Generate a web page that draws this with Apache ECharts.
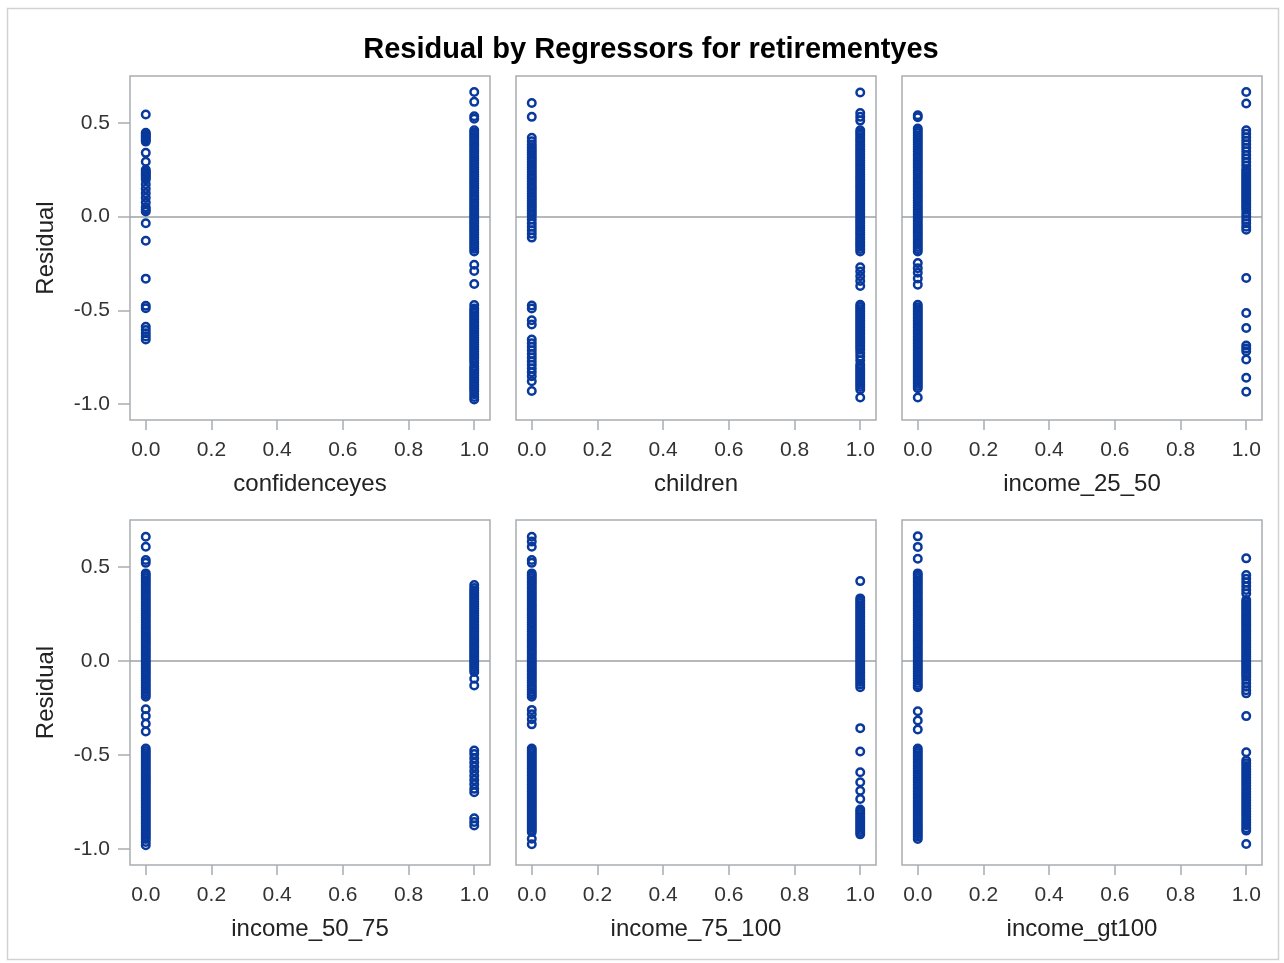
<!DOCTYPE html>
<html>
<head>
<meta charset="utf-8">
<script src="https://cdn.jsdelivr.net/npm/echarts@6/dist/echarts.min.js"></script>
<style>
html, body { margin: 0; padding: 0; background: #ffffff; }
#chart { width: 1284px; height: 963px; }
</style>
</head>
<body>
<div id="chart"></div>
<script>
// Regressors, one panel each (row-major, 3 per row)
const regressors = ['confidenceyes', 'children', 'income_25_50', 'income_50_75', 'income_75_100', 'income_gt100'];
const xTicks = [0, 0.2, 0.4, 0.6, 0.8, 1.0];
const yTicks = [-1.0, -0.5, 0.0, 0.5];
const residualLabel = 'Residual';
const titleText = 'Residual by Regressors for retirementyes';

// Residuals of observations with regressor = 0 and regressor = 1
const confidence0 = [0.545, 0.447, 0.44, 0.432, 0.424, 0.416, 0.408, 0.4, 0.34, 0.293, 0.25, 0.242, 0.233, 0.225, 0.216, 0.207, 0.198, 0.173, 0.148, 0.124, 0.1, 0.075, 0.05, 0.038, 0.027, -0.035, -0.129, -0.331, -0.476, -0.489, -0.588, -0.605, -0.622, -0.639, -0.656];
const confidence1 = [0.665, 0.612, 0.535, 0.522,
  0.461, 0.449, 0.437, 0.424, 0.412, 0.4, 0.387, 0.375, 0.362, 0.35, 0.338, 0.325, 0.313, 0.3, 0.288, 0.276, 0.263, 0.251, 0.238, 0.226, 0.214, 0.201, 0.189, 0.176, 0.164, 0.152, 0.139, 0.127, 0.114, 0.102, 0.09, 0.077, 0.065, 0.052, 0.04, 0.028, 0.015, 0.003, -0.01, -0.022, -0.034, -0.047, -0.059, -0.072, -0.084, -0.096, -0.109, -0.121, -0.134, -0.146, -0.16, -0.172, -0.186,
  -0.257, -0.29, -0.36,
  -0.472, -0.49, -0.502, -0.514, -0.526, -0.538, -0.55, -0.562, -0.574, -0.586, -0.598, -0.61, -0.622, -0.634, -0.646, -0.658, -0.67, -0.682, -0.694, -0.706, -0.718, -0.73, -0.742, -0.754, -0.766, -0.781, -0.799, -0.811, -0.823, -0.835, -0.847, -0.859, -0.871, -0.883, -0.895, -0.907, -0.919, -0.931, -0.948, -0.962, -0.976];

const children0 = [0.606, 0.532, 0.42, 0.402, 0.385, 0.37, 0.356, 0.343, 0.33, 0.317, 0.304, 0.291, 0.278, 0.265, 0.252, 0.239, 0.226, 0.213, 0.2, 0.187, 0.174, 0.161, 0.148, 0.135, 0.122, 0.109, 0.096, 0.083, 0.07, 0.057, 0.044, 0.031, 0.018, 0.005, -0.016, -0.035, -0.054, -0.073, -0.092, -0.112,
  -0.474, -0.49, -0.553, -0.576, -0.656, -0.675, -0.694, -0.713, -0.733, -0.752, -0.771, -0.79, -0.81, -0.83, -0.852, -0.878, -0.93];
const children1 = [0.662, 0.552, 0.532, 0.512,
  0.46, 0.448, 0.436, 0.423, 0.411, 0.399, 0.386, 0.374, 0.361, 0.349, 0.337, 0.324, 0.312, 0.299, 0.287, 0.275, 0.262, 0.25, 0.237, 0.225, 0.213, 0.2, 0.188, 0.175, 0.163, 0.151, 0.138, 0.126, 0.113, 0.101, 0.089, 0.076, 0.064, 0.051, 0.039, 0.027, 0.014, 0.002, -0.011, -0.023, -0.035, -0.048, -0.06, -0.073, -0.085, -0.097, -0.11, -0.122, -0.135, -0.147, -0.16, -0.173, -0.186,
  -0.27, -0.293, -0.318, -0.343, -0.37,
  -0.47, -0.482, -0.494, -0.506, -0.518, -0.53, -0.542, -0.554, -0.566, -0.578, -0.59, -0.602, -0.614, -0.626, -0.638, -0.65, -0.662, -0.674, -0.686, -0.698, -0.71, -0.727, -0.746, -0.766, -0.789, -0.801, -0.813, -0.825, -0.837, -0.849, -0.861, -0.873, -0.885, -0.897, -0.909, -0.922, -0.965];

const income2550_0 = [0.541, 0.53,
  0.47, 0.458, 0.446, 0.433, 0.421, 0.409, 0.396, 0.384, 0.371, 0.359, 0.347, 0.334, 0.322, 0.309, 0.297, 0.285, 0.272, 0.26, 0.247, 0.235, 0.223, 0.21, 0.198, 0.185, 0.173, 0.161, 0.148, 0.136, 0.123, 0.111, 0.099, 0.086, 0.074, 0.061, 0.049, 0.037, 0.024, 0.012, -0.001, -0.013, -0.025, -0.038, -0.05, -0.063, -0.075, -0.087, -0.1, -0.112, -0.125, -0.137, -0.149, -0.162, -0.174, -0.186,
  -0.248, -0.275, -0.3, -0.33, -0.363,
  -0.47, -0.483, -0.495, -0.507, -0.519, -0.531, -0.543, -0.555, -0.567, -0.579, -0.591, -0.603, -0.615, -0.627, -0.639, -0.651, -0.663, -0.675, -0.687, -0.699, -0.711, -0.723, -0.735, -0.747, -0.759, -0.771, -0.783, -0.795, -0.807, -0.819, -0.831, -0.843, -0.855, -0.867, -0.879, -0.891, -0.903, -0.915, -0.965];
const income2550_1 = [0.665, 0.603,
  0.461, 0.442, 0.423, 0.404, 0.386, 0.367, 0.348, 0.329, 0.31, 0.291, 0.272, 0.253, 0.24, 0.228, 0.216, 0.204, 0.192, 0.18, 0.168, 0.156, 0.144, 0.132, 0.12, 0.108, 0.096, 0.084, 0.072, 0.06, 0.048, 0.036, 0.018, 0.0, -0.018, -0.036, -0.054, -0.07,
  -0.328, -0.514, -0.594, -0.688, -0.703, -0.718, -0.762, -0.86, -0.934];

const income5075_0 = [0.661, 0.608, 0.537, 0.522,
  0.466, 0.454, 0.441, 0.429, 0.417, 0.404, 0.392, 0.379, 0.367, 0.355, 0.342, 0.33, 0.317, 0.305, 0.293, 0.28, 0.268, 0.255, 0.243, 0.231, 0.218, 0.206, 0.193, 0.181, 0.169, 0.156, 0.144, 0.131, 0.119, 0.107, 0.094, 0.082, 0.069, 0.057, 0.045, 0.032, 0.02, 0.007, -0.005, -0.017, -0.03, -0.042, -0.055, -0.067, -0.079, -0.092, -0.104, -0.117, -0.129, -0.141, -0.154, -0.166, -0.178, -0.19,
  -0.257, -0.293, -0.334, -0.375,
  -0.465, -0.479, -0.491, -0.503, -0.515, -0.527, -0.539, -0.551, -0.563, -0.575, -0.587, -0.599, -0.611, -0.623, -0.635, -0.647, -0.659, -0.671, -0.683, -0.695, -0.707, -0.719, -0.731, -0.743, -0.755, -0.767, -0.779, -0.791, -0.803, -0.815, -0.827, -0.839, -0.851, -0.863, -0.875, -0.887, -0.899, -0.911, -0.923, -0.935, -0.947, -0.963, -0.98];
const income5075_1 = [0.404, 0.388, 0.375, 0.363, 0.351, 0.339, 0.327, 0.315, 0.303, 0.291, 0.279, 0.267, 0.255, 0.243, 0.231, 0.219, 0.207, 0.195, 0.183, 0.171, 0.159, 0.147, 0.135, 0.123, 0.111, 0.099, 0.087, 0.075, 0.063, 0.051, 0.039, 0.027, 0.015, 0.003, -0.009, -0.021, -0.033, -0.045, -0.058,
  -0.094, -0.13,
  -0.476, -0.494, -0.517, -0.54, -0.563, -0.586, -0.61, -0.633, -0.656, -0.68, -0.698,
  -0.837, -0.856, -0.875];

const income75100_0 = [0.661, 0.635, 0.608, 0.537, 0.522,
  0.466, 0.454, 0.442, 0.429, 0.417, 0.405, 0.392, 0.38, 0.367, 0.355, 0.343, 0.33, 0.318, 0.305, 0.293, 0.281, 0.268, 0.256, 0.243, 0.231, 0.219, 0.206, 0.194, 0.181, 0.169, 0.157, 0.144, 0.132, 0.119, 0.107, 0.095, 0.082, 0.07, 0.057, 0.045, 0.033, 0.02, 0.008, -0.005, -0.017, -0.029, -0.042, -0.054, -0.067, -0.079, -0.091, -0.104, -0.116, -0.129, -0.141, -0.153, -0.166, -0.178, -0.19,
  -0.26, -0.283, -0.31, -0.337,
  -0.465, -0.477, -0.489, -0.501, -0.513, -0.525, -0.537, -0.549, -0.561, -0.573, -0.585, -0.597, -0.609, -0.621, -0.633, -0.645, -0.657, -0.669, -0.681, -0.693, -0.705, -0.717, -0.729, -0.741, -0.753, -0.765, -0.777, -0.789, -0.801, -0.813, -0.825, -0.837, -0.849, -0.861, -0.873, -0.885, -0.897, -0.91, -0.945, -0.975];
const income75100_1 = [0.425,
  0.333, 0.321, 0.309, 0.297, 0.285, 0.273, 0.261, 0.249, 0.237, 0.225, 0.213, 0.201, 0.189, 0.177, 0.165, 0.153, 0.141, 0.129, 0.117, 0.105, 0.093, 0.081, 0.069, 0.057, 0.045, 0.033, 0.021, 0.009, -0.003, -0.015, -0.027, -0.039, -0.051, -0.063, -0.075, -0.087, -0.099, -0.111, -0.125, -0.139,
  -0.357, -0.481, -0.592, -0.645, -0.69, -0.734,
  -0.79, -0.802, -0.814, -0.826, -0.838, -0.85, -0.862, -0.874, -0.886, -0.898, -0.91, -0.922];

const incomeGt100_0 = [0.663, 0.607, 0.544,
  0.466, 0.454, 0.441, 0.429, 0.417, 0.404, 0.392, 0.379, 0.367, 0.355, 0.342, 0.33, 0.317, 0.305, 0.293, 0.28, 0.268, 0.255, 0.243, 0.231, 0.218, 0.206, 0.193, 0.181, 0.169, 0.156, 0.144, 0.131, 0.119, 0.107, 0.094, 0.082, 0.069, 0.057, 0.045, 0.032, 0.02, 0.007, -0.005, -0.017, -0.03, -0.042, -0.055, -0.067, -0.079, -0.092, -0.104, -0.117, -0.129, -0.139,
  -0.267, -0.316, -0.364,
  -0.465, -0.477, -0.489, -0.501, -0.513, -0.525, -0.537, -0.549, -0.561, -0.573, -0.585, -0.597, -0.609, -0.621, -0.633, -0.645, -0.657, -0.669, -0.681, -0.693, -0.705, -0.717, -0.729, -0.741, -0.753, -0.765, -0.777, -0.789, -0.801, -0.813, -0.825, -0.837, -0.849, -0.861, -0.873, -0.885, -0.897, -0.909, -0.921, -0.934, -0.947];
const incomeGt100_1 = [0.546, 0.457, 0.437, 0.417, 0.398, 0.378, 0.359,
  0.324, 0.312, 0.3, 0.288, 0.276, 0.264, 0.252, 0.24, 0.228, 0.216, 0.204, 0.192, 0.18, 0.168, 0.156, 0.144, 0.132, 0.12, 0.108, 0.096, 0.084, 0.072, 0.06, 0.048, 0.036, 0.024, 0.012, 0.0, -0.012, -0.024, -0.036, -0.048, -0.06, -0.072, -0.084, -0.1, -0.118, -0.137, -0.156, -0.172,
  -0.293, -0.485,
  -0.529, -0.544, -0.559, -0.574, -0.589, -0.604, -0.619, -0.634, -0.649, -0.664, -0.679, -0.694, -0.709, -0.724, -0.739, -0.754, -0.769, -0.784, -0.799, -0.814, -0.829, -0.844, -0.859, -0.874, -0.889, -0.902, -0.973];

const panelResiduals = [
  [confidence0, confidence1],
  [children0, children1],
  [income2550_0, income2550_1],
  [income5075_0, income5075_1],
  [income75100_0, income75100_1],
  [incomeGt100_0, incomeGt100_1]
];

// Layout and style
const FONT = "'Liberation Sans', Arial, Helvetica, sans-serif";
const FRAME = '#a9adb1';
const MARKER = '#0a399c';
const gridLefts = [130, 516, 902];
const gridTops = [76, 520];
const gridHeights = [344, 345];
const gridWidth = 360;

const grids = [], xAxes = [], yAxes = [], series = [];
regressors.forEach((name, i) => {
  const row = Math.floor(i / 3), col = i % 3;
  grids.push({
    left: gridLefts[col], top: gridTops[row], width: gridWidth, height: gridHeights[row],
    show: true, borderColor: FRAME, borderWidth: 1.5, backgroundColor: 'transparent'
  });
  xAxes.push({
    gridIndex: i, type: 'value', min: -0.048, max: 1.048, position: 'bottom',
    name: name, nameLocation: 'middle', nameGap: 52,
    nameTextStyle: { fontSize: 24, color: '#222', fontFamily: FONT },
    axisLine: { show: false, onZero: false },
    axisTick: { show: true, length: 10, customValues: xTicks, lineStyle: { color: FRAME, width: 1.5 } },
    axisLabel: { customValues: xTicks, formatter: v => v.toFixed(1), fontSize: 21, color: '#333', margin: 20, fontFamily: FONT },
    splitLine: { show: false }
  });
  yAxes.push({
    gridIndex: i, type: 'value', min: -1.085, max: 0.75, position: 'left',
    name: col === 0 ? residualLabel : '', nameLocation: 'middle', nameGap: 72, nameRotate: 90,
    nameTextStyle: { fontSize: 24, color: '#222', fontFamily: FONT },
    axisLine: { show: false, onZero: false },
    axisTick: { show: col === 0, length: 12, customValues: yTicks, lineStyle: { color: FRAME, width: 1.5 } },
    axisLabel: { show: col === 0, customValues: yTicks, formatter: v => v.toFixed(1), fontSize: 21, color: '#333', margin: 20, fontFamily: FONT },
    splitLine: { show: false }
  });
  const [zeros, ones] = panelResiduals[i];
  const data = zeros.map(v => [0, v]).concat(ones.map(v => [1, v]));
  series.push({
    type: 'scatter', xAxisIndex: i, yAxisIndex: i, z: 3,
    symbol: 'circle', symbolSize: 7.5,
    itemStyle: { color: 'rgba(0,0,0,0)', borderColor: MARKER, borderWidth: 2.5, opacity: 1 },
    emphasis: { disabled: true },
    data: data,
    markLine: {
      silent: true, z: 1, symbol: 'none', label: { show: false },
      lineStyle: { color: '#9ea2a6', width: 1.5, type: 'solid' },
      emphasis: { disabled: true },
      data: [{ yAxis: 0 }]
    }
  });
});

const chart = echarts.init(document.getElementById('chart'), null, { renderer: 'canvas' });
chart.setOption({
  animation: false,
  backgroundColor: '#ffffff',
  title: {
    text: titleText, left: 646, textAlign: 'center', top: 30,
    textStyle: { fontSize: 29, fontWeight: 'bold', color: '#000', fontFamily: FONT }
  },
  graphic: [{
    type: 'rect', silent: true,
    shape: { x: 7.5, y: 8.5, width: 1271, height: 951 },
    style: { fill: 'none', stroke: '#d2d2d2', lineWidth: 1.5 }
  }],
  grid: grids,
  xAxis: xAxes,
  yAxis: yAxes,
  series: series
});
</script>
</body>
</html>
